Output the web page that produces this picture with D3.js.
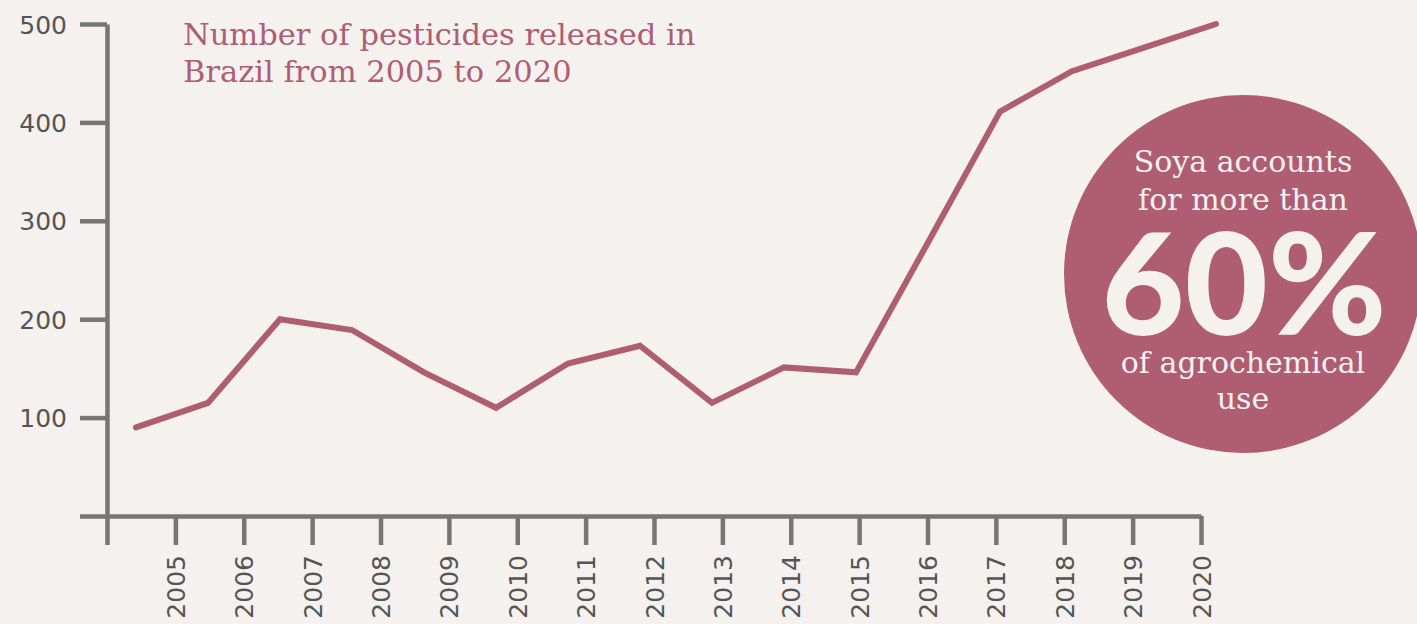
<!DOCTYPE html>
<html>
<head>
<meta charset="utf-8">
<script src="https://cdn.jsdelivr.net/npm/d3@7"></script>
<style>
  html, body { margin: 0; padding: 0; background: #f4f1ee; }
  svg { display: block; }
</style>
</head>
<body>
<svg id="chart" width="1417" height="624"></svg>
<script>
// ---- data ----
const years = [2005, 2006, 2007, 2008, 2009, 2010, 2011, 2012, 2013, 2014, 2015, 2016, 2017, 2018, 2019, 2020];
const pesticides = [90, 115, 200, 189, 146, 110, 155, 173, 115, 151, 146, 278, 411, 452, 476, 500];
const yTicks = [0, 100, 200, 300, 400, 500];
const xTickYears = [2004, 2005, 2006, 2007, 2008, 2009, 2010, 2011, 2012, 2013, 2014, 2015, 2016, 2017, 2018, 2019, 2020];
const titleLines = ["Number of pesticides released in", "Brazil from 2005 to 2020"];
const calloutTop = ["Soya accounts", "for more than"];
const calloutBig = "60%";
const calloutBottom = ["of agrochemical", "use"];

// ---- styles ----
const bg = "#f4f1ee";
const accent = "#af5d73";
const axisColor = "#767676";
const labelColor = "#555555";

const svg = d3.select("#chart");
svg.append("rect").attr("width", 1417).attr("height", 624).attr("fill", bg);

// scales
const y = d3.scaleLinear().domain([0, 500]).range([516, 24]);
const xAxisScale = d3.scaleLinear().domain([2004, 2020]).range([107, 1201]);
const xLine = d3.scaleLinear().domain([2005, 2020]).range([136, 1216]);

// y axis
const yAxis = svg.append("g")
  .attr("transform", "translate(107,0)")
  .call(d3.axisLeft(y).tickValues(yTicks).tickSize(27).tickSizeOuter(0).tickPadding(13)
    .tickFormat(d => d === 0 ? "" : d));

// x axis
const xAxis = svg.append("g")
  .attr("transform", "translate(0,516)")
  .call(d3.axisBottom(xAxisScale).tickValues(xTickYears).tickSize(29).tickSizeOuter(0).tickPadding(10)
    .tickFormat(d => d === 2004 ? "" : d));

[yAxis, xAxis].forEach(g => {
  g.select(".domain").attr("stroke", axisColor).attr("stroke-width", 4.5);
  g.selectAll(".tick line").attr("stroke", axisColor).attr("stroke-width", 4.5);
  g.selectAll(".tick text")
    .attr("fill", labelColor)
    .style("font-family", "'DejaVu Sans', sans-serif")
    .style("font-size", "25px");
});
yAxis.selectAll(".tick text").attr("dy", "0.36em");
xAxis.selectAll(".tick text")
  .attr("text-anchor", "end")
  .attr("transform", "rotate(-90)")
  .attr("x", -39)
  .attr("y", 0)
  .attr("dy", "0.36em");

// line
const line = d3.line()
  .x((d, i) => xLine(years[i]))
  .y(d => y(d));
svg.append("path")
  .datum(pesticides)
  .attr("d", line)
  .attr("fill", "none")
  .attr("stroke", accent)
  .attr("stroke-width", 6)
  .attr("stroke-linecap", "round")
  .attr("stroke-linejoin", "miter");

// title
const title = svg.append("text")
  .attr("fill", accent)
  .style("font-family", "'DejaVu Serif', serif")
  .style("font-size", "30.5px");
title.selectAll("tspan").data(titleLines).join("tspan")
  .attr("x", 183)
  .attr("y", (d, i) => 45 + i * 37)
  .text(d => d);

// callout circle
const cx = 1243, cy = 274;
svg.append("circle").attr("cx", cx).attr("cy", cy).attr("r", 179).attr("fill", accent);

const smallStyle = sel => sel
  .attr("fill", bg)
  .attr("text-anchor", "middle")
  .style("font-family", "'DejaVu Serif', serif")
  .style("font-size", "30px");

svg.selectAll("text.ctop").data(calloutTop).join("text")
  .attr("class", "ctop")
  .attr("x", cx).attr("y", (d, i) => 172 + i * 38)
  .call(smallStyle)
  .text(d => d);

svg.append("text")
  .attr("x", 1244).attr("y", 335)
  .attr("fill", bg)
  .attr("text-anchor", "middle")
  .style("font-family", "Lato, 'Open Sans', sans-serif")
  .style("font-weight", "900")
  .style("font-size", "142px")
  .attr("textLength", 285)
  .attr("lengthAdjust", "spacingAndGlyphs")
  .text(calloutBig);

svg.selectAll("text.cbot").data(calloutBottom).join("text")
  .attr("class", "cbot")
  .attr("x", cx).attr("y", (d, i) => 373 + i * 36)
  .call(smallStyle)
  .text(d => d);
</script>
</body>
</html>
